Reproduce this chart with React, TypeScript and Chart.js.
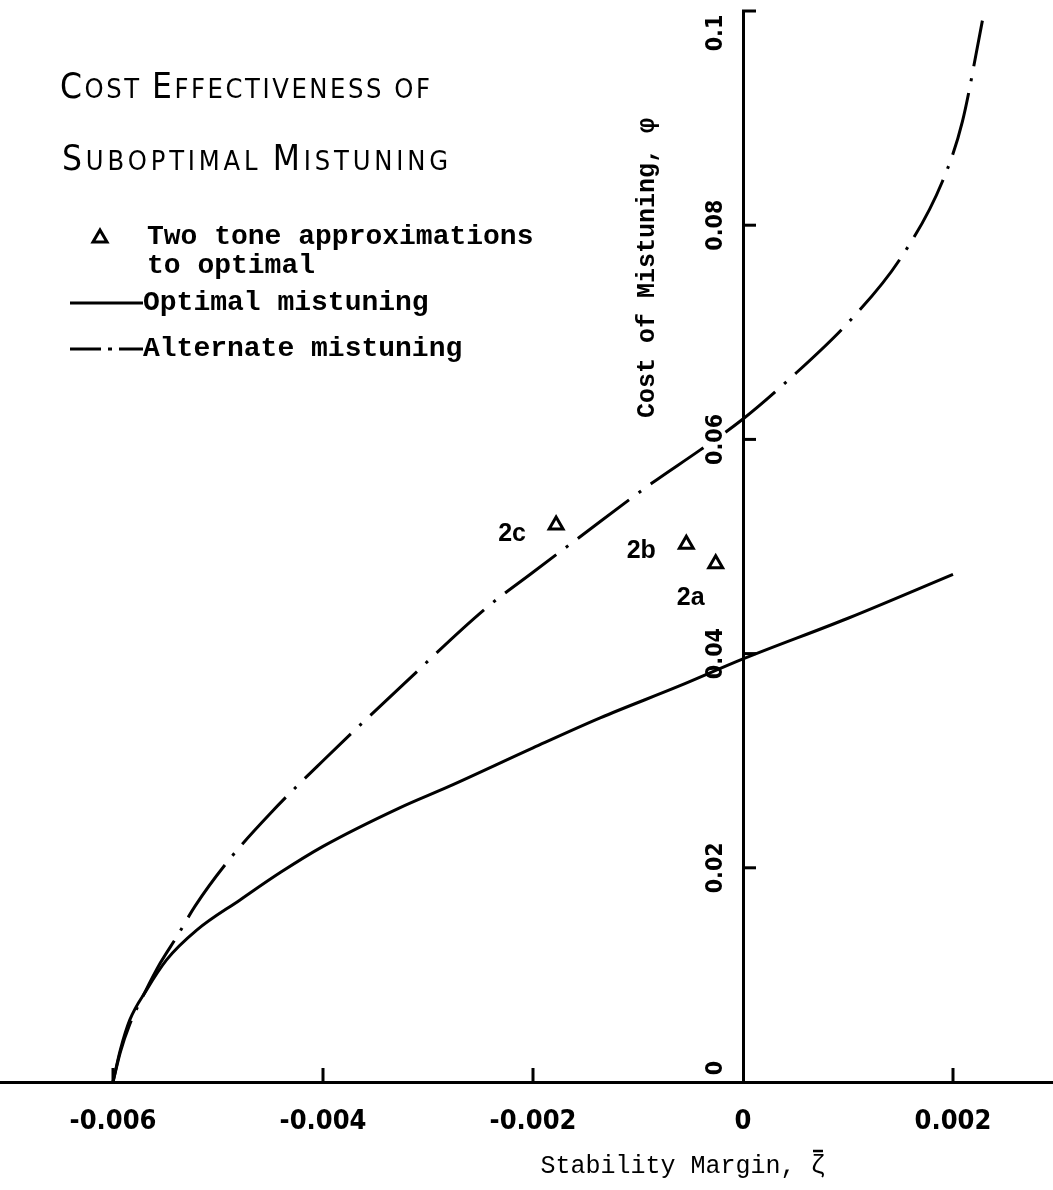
import React, { useEffect, useRef } from 'react';
import { Chart, registerables } from 'chart.js';

Chart.register(...registerables);

// ---- data ----
const optimalX = [-0.006, -0.00593, -0.00584, -0.00568, -0.00549, -0.0052, -0.00479, -0.0044, -0.004, -0.00327, -0.0028, -0.002, -0.00136, -0.0006, 0, 0.001, 0.002];
const optimalY = [0, 0.003, 0.0058, 0.0086, 0.0114, 0.0142, 0.017, 0.0196, 0.022, 0.0256, 0.0276, 0.0312, 0.034, 0.037, 0.0395, 0.0433, 0.0474];

const alternateX = [-0.006, -0.00593, -0.00584, -0.0057, -0.00555, -0.00539, -0.00522, -0.00489, -0.0045, -0.004, -0.00327, -0.00244, -0.002, -0.00158, -0.00087, -0.00041, 0, 0.00045, 0.00102, 0.0015, 0.0019, 0.00209, 0.00228];
const alternateY = [0, 0.0028, 0.0054, 0.0083, 0.0111, 0.0136, 0.0164, 0.0208, 0.0251, 0.03, 0.0368, 0.0443, 0.0476, 0.0507, 0.0559, 0.059, 0.0619, 0.0657, 0.0711, 0.0769, 0.0841, 0.0897, 0.0991];

const approxLabels = ['2c', '2b', '2a'];
const approxX = [-0.00178, -0.00054, -0.00026];
const approxY = [0.052, 0.0502, 0.0484];

const xTickValues = [-0.006, -0.004, -0.002, 0, 0.002];
const xTickLabels = ['-0.006', '-0.004', '-0.002', '0', '0.002'];
const yTickValues = [0, 0.02, 0.04, 0.06, 0.08, 0.1];
const yTickLabels = ['0', '0.02', '0.04', '0.06', '0.08', '0.1'];

const yMin = 0;
const yMax = 0.1;

const titleLines = ['Cost Effectiveness of', 'Suboptimal Mistuning'];
const legendLabels = ['Two tone approximations', 'to optimal', 'Optimal mistuning', 'Alternate mistuning'];
const xAxisTitle = 'Stability Margin, \u03B6';
const yAxisTitle = 'Cost of Mistuning, \u03C6';

// ---- layout / styles ----
const SHIFT = 20; // canvas is shifted left by this many px inside a clipping box
const X_ZERO_PX = 743; // page x of the y axis
const X_PX_PER_UNIT = 105000;
const INK = '#000';
const ALT_DASH = [64, 12, 3, 12];
const LABEL_OFFSETS = [[-44, 9], [-45, 7], [-25, 34]];
const MONO = '"Liberation Mono", "DejaVu Sans Mono", monospace';
const NARROW = '"Liberation Sans Narrow", "DejaVu Sans Condensed", "Arial Narrow", sans-serif';

function drawSmallCaps(ctx: CanvasRenderingContext2D, text: string, x: number, baseline: number, big: number, small: number, targetWidth: number) {
  const fam = '"DejaVu Sans Condensed", "DejaVu Sans", sans-serif';
  const chars: { c: string; f: string }[] = [];
  const words = text.split(' ');
  words.forEach((w, wi) => {
    w.split('').forEach((c, ci) => {
      const isCap = ci === 0 && c === c.toUpperCase();
      chars.push({ c: c.toUpperCase(), f: `${isCap ? big : small}px ${fam}` });
    });
    if (wi < words.length - 1) chars.push({ c: ' ', f: `${small}px ${fam}` });
  });
  let natural = 0;
  const widths = chars.map(ch => { ctx.font = ch.f; const w = ctx.measureText(ch.c).width; natural += w; return w; });
  const extra = (targetWidth - natural) / (chars.length - 1);
  let cx = x;
  chars.forEach((ch, i) => {
    ctx.font = ch.f;
    ctx.fillText(ch.c, cx, baseline);
    cx += widths[i] + extra;
  });
}

const annotations = {
  id: 'annotations',
  afterDraw(chart: any) {
    const { ctx, chartArea } = chart;
    const xs = chart.scales.x;
    const ys = chart.scales.y;
    const x0 = xs.getPixelForValue(0);
    const y0 = ys.getPixelForValue(0);
    ctx.save();
    ctx.strokeStyle = INK;
    ctx.fillStyle = INK;
    ctx.lineWidth = 3;
    ctx.setLineDash([]);
    // inward tick marks
    xTickValues.forEach(v => {
      if (v === 0) return;
      const px = xs.getPixelForValue(v);
      ctx.beginPath(); ctx.moveTo(px, y0); ctx.lineTo(px, y0 - 14); ctx.stroke();
    });
    yTickValues.forEach(v => {
      if (v === 0) return;
      const py = ys.getPixelForValue(v);
      ctx.beginPath(); ctx.moveTo(x0 - 1, py); ctx.lineTo(x0 + 13, py); ctx.stroke();
    });
    // rotated y tick labels
    ctx.font = `bold 23px ${NARROW}`;
    ctx.textAlign = 'center';
    ctx.textBaseline = 'middle';
    yTickValues.forEach((v, i) => {
      let py = ys.getPixelForValue(v);
      py = Math.min(Math.max(py, chartArea.top + 22), chartArea.bottom - 14);
      ctx.save(); ctx.translate(x0 - 27, py); ctx.rotate(-Math.PI / 2); ctx.fillText(yTickLabels[i], 0, 0); ctx.restore();
    });
    // y axis title
    ctx.font = `bold 25px ${MONO}`;
    ctx.save(); ctx.translate(x0 - 95, 268); ctx.rotate(-Math.PI / 2); ctx.fillText(yAxisTitle, 0, 0); ctx.restore();
    // point labels
    ctx.font = 'bold 25px "Liberation Sans", Arial, sans-serif';
    approxLabels.forEach((lab, i) => {
      const px = xs.getPixelForValue(approxX[i]);
      const py = ys.getPixelForValue(approxY[i]);
      ctx.fillText(lab, px + LABEL_OFFSETS[i][0], py + LABEL_OFFSETS[i][1]);
    });

    // page-anchored items
    ctx.translate(SHIFT, 0);
    // x axis title with overbar on zeta
    ctx.font = `25px ${MONO}`;
    ctx.textAlign = 'center';
    ctx.textBaseline = 'alphabetic';
    const tw = ctx.measureText(xAxisTitle).width;
    const tcx = 683;
    const tby = 1173;
    ctx.fillText(xAxisTitle, tcx, tby);
    const zw = ctx.measureText('\u03B6').width;
    const zx = tcx + tw / 2 - zw / 2;
    ctx.lineWidth = 2.5;
    ctx.beginPath(); ctx.moveTo(zx - 5, tby - 22); ctx.lineTo(zx + 5, tby - 22); ctx.stroke();

    // title
    ctx.textAlign = 'left';
    drawSmallCaps(ctx, titleLines[0], 60, 98, 35, 27, 370);
    drawSmallCaps(ctx, titleLines[1], 62, 170, 35, 27, 386);
    // legend
    ctx.textBaseline = 'middle';
    ctx.font = `bold 28px ${MONO}`;
    ctx.lineWidth = 3;
    ctx.beginPath();
    ctx.moveTo(100, 230); ctx.lineTo(107, 242); ctx.lineTo(93, 242); ctx.closePath();
    ctx.stroke();
    ctx.fillText(legendLabels[0], 147, 237);
    ctx.fillText(legendLabels[1], 147, 266);
    ctx.beginPath(); ctx.moveTo(70, 303); ctx.lineTo(143, 303); ctx.stroke();
    ctx.fillText(legendLabels[2], 143, 303);
    ctx.beginPath(); ctx.moveTo(70, 349); ctx.lineTo(101, 349); ctx.moveTo(108, 349); ctx.lineTo(112, 349); ctx.moveTo(119, 349); ctx.lineTo(143, 349); ctx.stroke();
    ctx.fillText(legendLabels[3], 143, 349);
    ctx.restore();
  },
};

export default function App() {
  const ref = useRef<HTMLCanvasElement>(null);
  useEffect(() => {
    if (!ref.current) return;
    const chart: any = new Chart(ref.current, {
      type: 'scatter',
      data: {
        datasets: [
          {
            label: 'Optimal mistuning',
            data: optimalX.map((x, i) => ({ x, y: optimalY[i] })),
            showLine: true,
            borderColor: INK,
            borderWidth: 3,
            pointRadius: 0,
            cubicInterpolationMode: 'monotone',
          },
          {
            label: 'Alternate mistuning',
            data: alternateX.map((x, i) => ({ x, y: alternateY[i] })),
            showLine: true,
            borderColor: INK,
            borderWidth: 3,
            borderDash: ALT_DASH,
            pointRadius: 0,
            cubicInterpolationMode: 'monotone',
          },
          {
            label: 'Two tone approximations to optimal',
            data: approxX.map((x, i) => ({ x, y: approxY[i] })),
            showLine: false,
            pointStyle: 'triangle',
            pointRadius: 8,
            borderWidth: 3,
            borderColor: INK,
            backgroundColor: '#fff',
          },
        ],
      },
      options: {
        responsive: false,
        animation: false,
        devicePixelRatio: 1,
        layout: { padding: { top: 10, bottom: 108, left: 0, right: 0 } },
        plugins: { legend: { display: false }, tooltip: { enabled: false }, title: { display: false } },
        scales: {
          x: {
            type: 'linear',
            min: -0.0072,
            max: 0.00305,
            position: { y: 0 },
            afterBuildTicks: (scale: any) => { scale.ticks = xTickValues.map(v => ({ value: v })); },
            ticks: {
              callback: (v: any) => { const i = xTickValues.indexOf(Number(v)); return i >= 0 ? xTickLabels[i] : ''; },
              color: INK,
              padding: 24,
              font: { family: '"DejaVu Sans Condensed", "Liberation Sans Narrow", "DejaVu Sans Mono", sans-serif', size: 27, weight: 'bold' },
            },
            grid: { display: false, drawTicks: false },
            border: { display: true, color: INK, width: 3 },
          },
          y: {
            type: 'linear',
            min: yMin,
            max: yMax,
            position: { x: 0 },
            afterBuildTicks: (scale: any) => { scale.ticks = yTickValues.map(v => ({ value: v })); },
            ticks: { display: false },
            grid: { display: false, drawTicks: false },
            border: { display: true, color: INK, width: 3 },
          },
        },
      },
      plugins: [annotations],
    } as any);
    // calibrate the x range so the axis sits where the page layout wants it
    const ca = chart.chartArea;
    chart.options.scales.x.min = (ca.left - SHIFT - X_ZERO_PX) / X_PX_PER_UNIT;
    chart.options.scales.x.max = (ca.right - SHIFT - X_ZERO_PX) / X_PX_PER_UNIT;
    chart.update();
    return () => chart.destroy();
  }, []);
  return (
    <div style={{ position: 'absolute', left: 0, top: 0, width: 1053, height: 1190, overflow: 'hidden', background: '#fff' }}>
      <canvas ref={ref} width={1053 + 2 * SHIFT} height={1190} style={{ display: 'block', marginLeft: -SHIFT }} />
    </div>
  );
}
